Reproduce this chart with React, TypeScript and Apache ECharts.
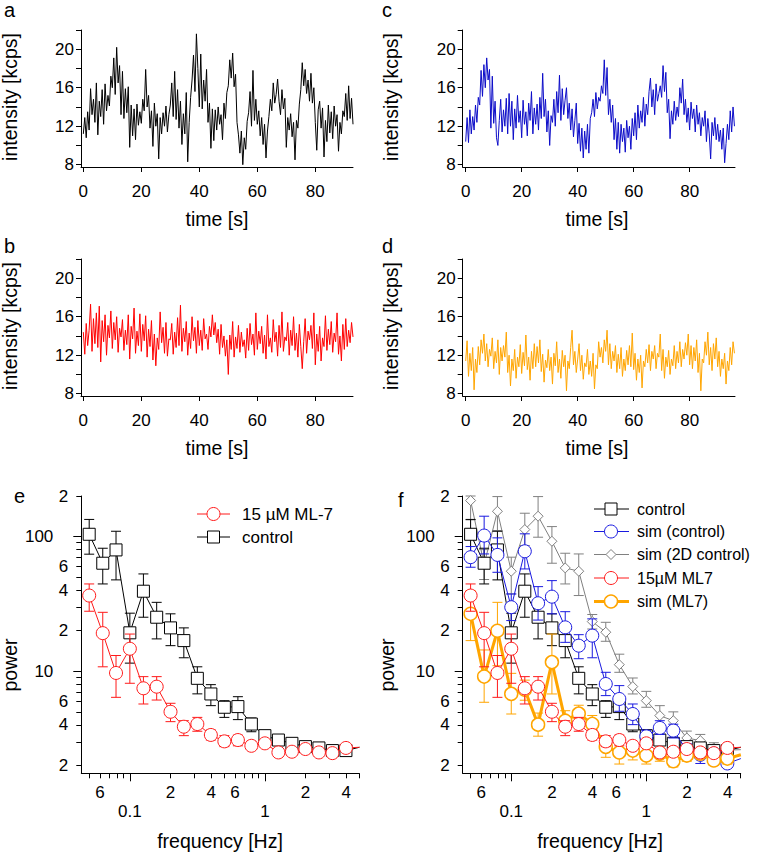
import { useEffect, useRef } from 'react';
import * as echarts from 'echarts';

const FONT = "'Liberation Sans', Arial, Helvetica, sans-serif";

// Intensity traces [kcps], sampled every 0.5 s
const DT = 0.5;
const traceA = [
  11.2, 12.9, 10.8, 13.5, 11.6, 15.9, 13.2, 14.8, 12.4, 16.5,
  11.1, 14.6, 13.0, 15.8, 12.2, 16.4, 13.6, 15.2, 14.1, 17.2,
  16.0, 19.1, 15.3, 20.2, 16.5, 18.3, 13.2, 17.7, 12.8, 15.9,
  13.4, 16.1, 9.8, 14.2, 11.0, 13.8, 10.6, 14.3, 12.1, 13.5,
  12.3, 14.8, 13.6, 17.9, 14.0, 15.2, 11.8, 13.6, 9.9, 14.4,
  12.0, 13.3, 8.6, 12.9, 11.2, 13.4, 12.0, 14.1, 11.4, 13.2,
  14.2, 16.5, 13.0, 17.7, 12.7, 15.8, 11.8, 14.6, 10.1, 13.3,
  11.2, 15.5, 8.3, 12.4, 15.0, 16.8, 19.4, 15.6, 21.6, 18.0,
  14.0, 19.5, 13.8, 16.8, 14.6, 17.9, 12.4, 14.4, 9.7, 13.8,
  10.5, 13.7, 11.6, 14.0, 12.2, 13.2, 10.6, 14.4, 12.8, 15.5,
  16.2, 18.9, 17.0, 19.6, 16.1, 17.4, 12.4, 11.1, 9.2, 11.5,
  8.0, 10.8, 9.6, 12.5, 13.4, 15.6, 12.0, 17.8, 12.6, 14.8,
  12.2, 13.6, 11.0, 12.9, 10.1, 12.2, 8.7, 11.5, 13.0, 14.8,
  13.6, 16.5, 14.4, 15.3, 16.9, 14.6, 13.2, 15.8, 13.8, 14.9,
  9.8, 12.9, 11.6, 13.3, 10.9, 12.4, 8.5, 12.6, 11.8, 14.3,
  15.8, 18.6, 16.2, 17.9, 15.4, 16.8, 14.6, 17.5, 14.4, 16.0,
  12.4, 9.5, 13.7, 14.6, 11.8, 13.9, 8.8, 12.6, 10.4, 14.2,
  11.3, 13.5, 10.7, 14.1, 12.0, 13.2, 9.4, 12.4, 11.2, 13.6,
  13.0, 15.4, 12.6, 16.2, 12.8, 14.9, 12.2,
];
const traceB = [
  14.4, 12.1, 15.3, 13.0, 14.6, 17.3, 12.4, 15.8, 13.2, 16.4,
  12.8, 17.1, 11.3, 15.6, 13.4, 16.2, 12.0, 15.1, 13.8, 16.6,
  12.7, 15.4, 13.6, 16.0, 12.3, 14.8, 13.9, 15.7, 12.5, 14.6,
  13.1, 16.2, 11.6, 15.0, 13.7, 16.9, 12.2, 14.5, 13.0, 16.3,
  12.4, 15.2, 13.5, 16.1, 11.8, 14.7, 12.9, 15.6, 11.5, 14.2,
  10.9, 13.8, 12.6, 16.5, 13.3, 14.9, 12.2, 15.4, 11.9, 13.7,
  13.6, 15.3, 12.1, 14.4, 12.8, 15.9, 13.0, 17.2, 12.4, 14.8,
  13.4, 15.5, 12.0, 14.3, 12.7, 16.0, 13.5, 14.9, 12.2, 15.6,
  13.0, 14.6, 12.5, 15.8, 13.7, 14.2, 12.6, 15.0, 13.9, 16.2,
  14.1, 15.4, 13.3, 14.7, 12.1, 15.2, 12.8, 14.0, 11.9, 13.6,
  10.0, 14.1, 12.6, 15.5, 11.8, 13.9, 12.7, 15.1, 12.3, 14.4,
  12.9, 13.6, 11.7, 14.8, 12.5, 15.3, 13.1, 14.2, 12.0, 16.4,
  12.6, 14.5, 13.2, 15.0, 12.2, 14.1, 11.6, 16.2, 12.9, 13.8,
  12.3, 15.7, 13.4, 14.4, 11.9, 15.1, 12.8, 16.5, 12.4, 13.9,
  13.5, 15.4, 12.0, 14.6, 13.0, 16.0, 12.5, 14.3, 11.8, 15.2,
  12.9, 10.6, 13.4, 15.8, 12.2, 14.5, 13.6, 15.1, 12.7, 16.4,
  11.0, 14.2, 12.4, 15.0, 11.4, 13.8, 12.9, 16.1, 12.5, 14.7,
  13.1, 15.5, 12.3, 14.3, 13.4, 16.4, 12.1, 14.0, 11.4, 15.2,
  12.6, 15.8, 12.9, 14.6, 13.3, 15.4, 13.9,
];
const traceC = [
  10.4, 12.9, 10.3, 13.7, 11.2, 13.0, 11.6, 14.2, 12.4, 15.0,
  14.2, 17.8, 15.1, 18.4, 16.0, 19.1, 16.8, 17.9, 11.8, 17.2,
  12.3, 14.6, 10.8, 10.0, 12.6, 14.8, 11.4, 13.7, 12.0, 14.9,
  11.2, 15.4, 12.0, 14.6, 10.6, 13.8, 11.8, 15.2, 12.4, 13.6,
  10.8, 14.7, 12.2, 13.5, 11.0, 14.4, 12.6, 15.6, 11.2, 13.9,
  12.2, 14.3, 11.6, 15.0, 12.8, 17.5, 13.0, 14.8, 11.4, 13.6,
  10.0, 13.1, 12.4, 14.8, 12.0, 15.6, 13.4, 17.3, 12.6, 15.9,
  13.2, 14.7, 16.0, 12.8, 14.4, 11.6, 13.8, 10.9, 12.6, 14.4,
  10.2, 12.3, 9.4, 11.8, 8.7, 11.5, 9.6, 12.2, 9.2, 12.8,
  13.4, 14.8, 13.0, 15.5, 13.8, 15.0, 14.6, 16.2, 15.4, 18.9,
  15.2, 18.1, 13.2, 14.8, 12.4, 14.2, 10.6, 12.8, 9.6, 12.4,
  9.2, 12.2, 10.4, 11.8, 9.3, 12.6, 10.8, 12.0, 9.6, 12.8,
  11.0, 13.4, 10.6, 14.2, 11.8, 13.6, 12.4, 15.0, 12.0, 14.3,
  13.2, 15.6, 17.0, 14.0, 15.8, 13.2, 16.4, 14.6, 15.4, 16.2,
  15.0, 18.3, 15.6, 17.6, 13.4, 14.8, 10.7, 13.6, 12.2, 14.6,
  12.6, 14.0, 13.0, 16.0, 14.4, 16.9, 13.2, 14.8, 12.4, 13.9,
  11.6, 14.5, 12.8, 13.8, 11.4, 14.2, 12.2, 13.4, 11.0, 12.9,
  12.0, 13.6, 10.4, 12.8, 11.2, 8.6, 12.4, 11.0, 12.9, 10.6,
  12.2, 10.4, 11.6, 9.6, 11.8, 8.2, 10.2, 12.2, 10.6, 13.6,
  11.4, 14.0, 12.0,
];
const traceD = [
  11.4, 13.5, 9.8, 12.2, 10.4, 12.8, 8.4, 11.6, 10.2, 12.9,
  11.0, 13.6, 12.2, 14.2, 11.4, 13.2, 10.8, 12.6, 11.9, 13.8,
  10.6, 12.4, 11.2, 13.6, 10.0, 12.8, 11.4, 13.0, 11.8, 14.4,
  10.2, 12.0, 8.8, 11.6, 10.4, 12.6, 9.6, 11.8, 10.8, 13.1,
  10.1, 12.3, 10.9, 14.1, 10.5, 11.8, 9.4, 12.4, 10.6, 13.2,
  10.8, 12.9, 11.2, 13.6, 10.3, 12.1, 9.2, 11.5, 10.7, 12.6,
  10.4, 11.8, 9.0, 12.2, 10.9, 13.4, 10.2, 11.6, 9.6, 12.5,
  10.8, 12.0, 8.3, 11.4, 10.6, 12.8, 14.6, 11.0, 12.4, 10.2,
  11.6, 13.2, 10.4, 12.0, 9.5, 11.2, 10.8, 12.6, 10.0, 11.4,
  9.8, 12.2, 8.5, 11.0, 10.6, 13.4, 11.8, 12.8, 11.2, 13.6,
  12.4, 14.6, 11.0, 13.2, 10.6, 12.4, 11.4, 13.0, 10.2, 12.1,
  10.6, 12.8, 9.8, 11.6, 10.4, 12.5, 11.0, 13.0, 10.8, 14.3,
  10.5, 12.2, 9.4, 11.6, 10.2, 12.0, 8.6, 11.4, 10.8, 12.6,
  11.2, 13.1, 10.4, 12.4, 11.6, 13.0, 10.6, 12.2, 11.8, 14.2,
  10.4, 12.6, 9.6, 11.8, 10.8, 12.5, 10.0, 11.6, 10.9, 13.0,
  10.6, 12.4, 11.2, 13.4, 10.8, 12.6, 11.6, 13.3, 12.0, 14.2,
  11.0, 13.0, 10.6, 12.8, 11.4, 13.6, 10.2, 12.2, 8.3, 11.6,
  11.2, 13.4, 12.0, 14.4, 11.0, 12.8, 10.4, 13.2, 11.6, 13.8,
  10.8, 12.4, 9.8, 11.6, 10.6, 12.2, 9.0, 11.4, 10.4, 12.8,
  11.0, 13.4, 12.2,
];

// Power spectra
const freq = [0.05, 0.063, 0.079, 0.1, 0.126, 0.158, 0.2, 0.251, 0.316, 0.398, 0.501, 0.631, 0.794, 1.0, 1.259, 1.585, 1.995, 2.512, 3.162, 3.981, 5.012];

const ctrlVal = [104, 63.4, 79.6, 19.3, 39.3, 25.2, 21.0, 16.9, 8.87, 6.79, 5.41, 5.47, 4.06, 3.33, 3.09, 2.92, 2.76, 2.70, 2.58, 2.58, 2.73];
const ctrlHi = [134, 81.9, 109.5, 27, 52.8, 32.5, 26.7, 21, 10.8, 7.96, 6.05, 6.48, 4.5, 3.53, 3.33, 3.1, 2.9, 2.82, 2.7, 2.7];
const ctrlLo = [74, 44.5, 47.7, 11.5, 25.2, 17.4, 15.5, 12.6, 6.8, 5.56, 4.55, 4.38, 3.56, 3.09, 2.85, 2.75, 2.62, 2.58, 2.46, 2.46];

const ml7Val = [36.5, 19.2, 9.72, 14.7, 7.48, 7.69, 5.01, 3.88, 4.06, 3.37, 3.02, 3.09, 2.8, 2.92, 2.5, 2.53, 2.65, 2.5, 2.47, 2.7, 2.73];
const ml7Hi = [44.5, 27.4, 13.1, 18.9, 9.13, 9.13, 5.79, 4.3, 4.55, 3.67, 3.33, 3.36, 3.02, 3.1, 2.65, 2.65, 2.8, 2.62, 2.6, 2.8];
const ml7Lo = [27.9, 10.8, 6.41, 8.15, 5.72, 6.12, 4.23, 3.33, 3.59, 3.09, 2.76, 2.8, 2.65, 2.75, 2.38, 2.4, 2.5, 2.38, 2.35, 2.6];

const simCtrlVal = [70.3, 101.7, 73.1, 29.9, 77.8, 32.0, 35.8, 21.2, 15.5, 18.4, 8.05, 6.23, 4.82, 3.29, 3.8, 3.63, 2.6, 2.4, 2.45, 2.07, 2.25];
const simCtrlHi = [84.3, 141.6, 97.8, 37.5, 104.8, 42.5, 47.1, 27.7, 18.7, 24.5, 9.83, 7.83, 5.72, 3.65, 4.3, 4.05, 2.9, 2.62, 2.6, 2.2];
const simCtrlLo = [59.2, 74.3, 54.3, 23.8, 57.5, 24.0, 26.7, 16.4, 12.4, 12.6, 6.6, 5.05, 4.02, 2.95, 3.4, 3.2, 2.25, 2.07, 2.3, 1.95];

const sim2dVal = [185, 62, 154, 55.3, 112.7, 141.6, 92.3, 58.5, 55.3, 23.4, 19.5, 11.2, 7.7, 6.06, 4.69, 4.3, 3.2, 3.06, 2.7, 2.6, 2.62];
const sim2dHi = [200, 80, 198, 70.3, 149, 198, 118.6, 75.2, 74.3, 26.4, 23.1, 13.4, 8.92, 7.1, 5.56, 5.0, 3.6, 3.4, 2.95, 2.75];
const sim2dLo = [133, 48, 110.8, 37.5, 85.8, 98.9, 63.4, 44.5, 36.5, 20.6, 16.7, 9.83, 6.79, 5.41, 4.0, 3.7, 2.85, 2.75, 2.5, 2.45];

const simMl7Val = [26.7, 9.14, 20.0, 6.8, 7.3, 4.02, 11.7, 4.3, 4.85, 4.07, 2.75, 2.5, 2.58, 2.37, 2.45, 2.15, 2.37, 2.45, 2.18, 2.25, 2.4];
const simMl7Hi = [39.7, 14.4, 32.5, 9.66, 8.6, 4.9, 18.9, 5.1, 5.6, 4.7, 3.2, 3.0, 2.9, 2.75, 2.7, 2.45, 2.6, 2.65, 2.4, 2.45];
const simMl7Lo = [16.9, 5.89, 11.0, 4.82, 6.1, 3.3, 6.79, 3.6, 4.2, 3.4, 2.3, 2.05, 2.2, 2.05, 2.15, 1.95, 2.15, 2.25, 2.0, 2.05];

// Axis ticks / labels
const timeTicks = [0, 20, 40, 60, 80];
const intensityTicks = [8, 10, 12, 14, 16, 18, 20, 22];
const intensityLabels = [8, 12, 16, 20];
const logXMajor = [0.1, 1];
const logXMinor = [0.05, 0.06, 0.07, 0.08, 0.09, 0.2, 0.3, 0.4, 0.5, 0.6, 0.7, 0.8, 0.9, 2, 3, 4, 5];
const logXMinorLabels = [0.06, 0.2, 0.4, 0.6, 2, 4];
const logYMajor = [10, 100];
const logYMinor = [2, 3, 4, 5, 6, 7, 8, 9, 20, 30, 40, 50, 60, 70, 80, 90, 200];
const logYMinorLabels = [2, 4, 6, 20, 40, 60, 200];

const COL = {
  black: '#000000',
  red: '#ff1a1a',
  blue: '#1a1ae0',
  gray: '#808080',
  orange: '#ffa500',
  traceBlue: '#0c0cc8',
  traceRed: '#ff0000',
  traceOrange: '#ffa500',
};

const lineSt = { color: '#000', width: 1 };
const labelBase = { fontSize: 17, fontFamily: FONT, color: '#000' };

function timeX(gridIndex: number, min: number, max: number) {
  return {
    type: 'value', gridIndex, min, max, position: 'bottom',
    axisLine: { show: true, onZero: false, lineStyle: lineSt },
    axisTick: { show: true, length: 5, customValues: timeTicks, lineStyle: lineSt },
    axisLabel: { ...labelBase, show: true, customValues: timeTicks, margin: 16 },
    splitLine: { show: false },
  };
}
function timeY(gridIndex: number) {
  return {
    type: 'value', gridIndex, min: 7.76, max: 22, position: 'left',
    axisLine: { show: true, onZero: false, lineStyle: lineSt },
    axisTick: { show: true, length: 5, customValues: intensityTicks, lineStyle: lineSt },
    axisLabel: { ...labelBase, show: true, customValues: intensityLabels, margin: 7 },
    splitLine: { show: false },
  };
}
const fmtMajor = (v: number) => String(Number(v.toPrecision(3)));
const fmtMinor = (v: number) => {
  const m = Number(v.toPrecision(3));
  const e = Math.floor(Math.log10(m) + 1e-9);
  return String(Math.round(m / Math.pow(10, e)));
};
function logX(gridIndex: number, major: boolean) {
  return {
    type: 'log', logBase: 10, gridIndex, min: 0.0437, max: 5, position: 'bottom',
    axisLine: { show: major, onZero: false, lineStyle: lineSt },
    axisTick: { show: true, length: major ? 8 : 5, customValues: major ? logXMajor : logXMinor, lineStyle: lineSt },
    axisLabel: { ...labelBase, show: true, customValues: major ? logXMajor : logXMinorLabels, margin: major ? 30 : 10.5, formatter: major ? fmtMajor : fmtMinor },
    splitLine: { show: false }, minorTick: { show: false },
  };
}
function logY(gridIndex: number, major: boolean) {
  return {
    type: 'log', logBase: 10, gridIndex, min: 1.75, max: 200, position: 'left',
    axisLine: { show: major, onZero: false, lineStyle: lineSt },
    axisTick: { show: true, length: major ? 8 : 5, customValues: major ? logYMajor : logYMinor, lineStyle: lineSt },
    axisLabel: { ...labelBase, show: true, customValues: major ? logYMajor : logYMinorLabels, margin: major ? 28 : 13, formatter: major ? fmtMajor : fmtMinor },
    splitLine: { show: false }, minorTick: { show: false },
  };
}

function traceSeries(vals: number[], idx: number, color: string) {
  return {
    type: 'line', xAxisIndex: idx, yAxisIndex: idx,
    data: vals.map((v, i) => [i * DT, v]),
    showSymbol: false, symbol: 'none',
    lineStyle: { color, width: 1 },
    silent: true, emphasis: { disabled: true }, z: 2,
  };
}

function errSeries(xi: number, yi: number, color: string, lo: number[], hi: number[], z: number) {
  return {
    type: 'custom', xAxisIndex: xi, yAxisIndex: yi, z, silent: true, clip: false,
    data: lo.map((l, i) => [freq[i], l, hi[i]]),
    encode: { x: 0, y: [1, 2] },
    renderItem: (_p: any, api: any) => {
      const x = api.value(0);
      const pt = api.coord([x, api.value(2)]);
      const pb = api.coord([x, api.value(1)]);
      const w = 5;
      const style = { stroke: color, lineWidth: 1, fill: 'none' };
      return {
        type: 'group',
        children: [
          { type: 'line', shape: { x1: pt[0], y1: pt[1], x2: pb[0], y2: pb[1] }, style },
          { type: 'line', shape: { x1: pt[0] - w, y1: pt[1], x2: pt[0] + w, y2: pt[1] }, style },
          { type: 'line', shape: { x1: pb[0] - w, y1: pb[1], x2: pb[0] + w, y2: pb[1] }, style },
        ],
      };
    },
  };
}

function specSeries(name: string, xi: number, yi: number, vals: number[], color: string, symbol: string, size: number, width: number, bw: number, z: number) {
  return {
    type: 'line', name, xAxisIndex: xi, yAxisIndex: yi, z,
    data: vals.map((v, i) => [freq[i], v]),
    symbol, symbolSize: size, showSymbol: true, showAllSymbol: true,
    itemStyle: { color: '#ffffff', borderColor: color, borderWidth: bw },
    lineStyle: { color, width },
    silent: true, emphasis: { disabled: true },
  };
}

function txt(text: string, x: number, y: number, size: number, align = 'center', rot = 0, vAlign = 'middle') {
  return {
    type: 'text', x, y, rotation: rot, silent: true,
    style: {
      text, fill: '#000', fontSize: size, fontFamily: FONT,
      align, textAlign: align, verticalAlign: vAlign, textVerticalAlign: vAlign,
    },
  };
}

function legendItem(y: number, x1: number, x2: number, mx: number, tx: number, label: string, color: string, kind: string, lw: number, bw: number, fs: number) {
  const els: any[] = [
    { type: 'line', silent: true, shape: { x1, y1: y, x2, y2: y }, style: { stroke: color, lineWidth: lw } },
  ];
  const ms = { fill: '#fff', stroke: color, lineWidth: bw };
  if (kind === 'circle') els.push({ type: 'circle', silent: true, shape: { cx: mx, cy: y, r: 6.5 }, style: ms });
  if (kind === 'rect') els.push({ type: 'rect', silent: true, shape: { x: mx - 6, y: y - 6, width: 12, height: 12 }, style: ms });
  if (kind === 'diamond') els.push({ type: 'polygon', silent: true, shape: { points: [[mx, y - 5], [mx + 5, y], [mx, y + 5], [mx - 5, y]] }, style: ms });
  els.push(txt(label, tx, y, fs, 'left'));
  return els;
}

export default function App() {
  const ref = useRef<HTMLDivElement>(null);
  useEffect(() => {
    document.body.style.margin = '0';
    if (!ref.current) return;
    const chart = echarts.init(ref.current, undefined, { renderer: 'svg' });
    const grids = [
      { left: 81, top: 30, width: 272, height: 137 },
      { left: 81, top: 259, width: 272, height: 137 },
      { left: 462.7, top: 30, width: 272.3, height: 137 },
      { left: 462.7, top: 259, width: 272.3, height: 137 },
      { left: 81.3, top: 496, width: 278, height: 277.3 },
      { left: 462.7, top: 496, width: 278, height: 277.3 },
    ];
    const xAxis = [
      timeX(0, -0.8, 93), timeX(1, -0.8, 93), timeX(2, -1.07, 96.2), timeX(3, -1.07, 96.2),
      logX(4, true), logX(4, false), logX(5, true), logX(5, false),
    ];
    const yAxis = [
      timeY(0), timeY(1), timeY(2), timeY(3),
      logY(4, true), logY(4, false), logY(5, true), logY(5, false),
    ];
    const series: any[] = [
      traceSeries(traceA, 0, COL.black),
      traceSeries(traceB, 1, COL.traceRed),
      traceSeries(traceC, 2, COL.traceBlue),
      traceSeries(traceD, 3, COL.traceOrange),
      // panel e
      errSeries(4, 4, COL.black, ctrlLo, ctrlHi, 3),
      specSeries('control', 4, 4, ctrlVal, COL.black, 'rect', 12, 1, 1, 4),
      errSeries(4, 4, COL.red, ml7Lo, ml7Hi, 5),
      specSeries('15 µM ML-7', 4, 4, ml7Val, COL.red, 'circle', 13, 1, 1, 6),
      // panel f
      errSeries(6, 6, COL.gray, sim2dLo, sim2dHi, 1),
      specSeries('sim (2D control)', 6, 6, sim2dVal, COL.gray, 'diamond', 10, 1, 1, 2),
      errSeries(6, 6, COL.black, ctrlLo, ctrlHi, 3),
      specSeries('control', 6, 6, ctrlVal, COL.black, 'rect', 12, 1, 1, 4),
      errSeries(6, 6, COL.blue, simCtrlLo, simCtrlHi, 5),
      specSeries('sim (control)', 6, 6, simCtrlVal, COL.blue, 'circle', 13, 1, 1, 6),
      errSeries(6, 6, COL.orange, simMl7Lo, simMl7Hi, 7),
      specSeries('sim (ML7)', 6, 6, simMl7Val, COL.orange, 'circle', 13, 3, 1.5, 8),
      errSeries(6, 6, COL.red, ml7Lo, ml7Hi, 9),
      specSeries('15µM ML7', 6, 6, ml7Val, COL.red, 'circle', 13, 1, 1, 10),
    ];
    const graphic: any[] = [
      txt('a', 4, 0, 20, 'left', 0, 'top'),
      txt('b', 4, 246.1, 20, 'left'),
      txt('c', 382, 0, 20, 'left', 0, 'top'),
      txt('d', 382, 246.1, 20, 'left'),
      txt('e', 14, 496.1, 20, 'left'),
      txt('f', 398, 500.1, 20, 'left'),
      txt('intensity [kcps]', 10, 97, 19.5, 'center', Math.PI / 2),
      txt('intensity [kcps]', 10, 326, 19.5, 'center', Math.PI / 2),
      txt('intensity [kcps]', 391, 97, 19.5, 'center', Math.PI / 2),
      txt('intensity [kcps]', 391, 326, 19.5, 'center', Math.PI / 2),
      txt('time [s]', 217, 219, 19.5),
      txt('time [s]', 597, 219, 19.5),
      txt('time [s]', 217, 448, 19.5),
      txt('time [s]', 597, 448, 19.5),
      txt('power', 10, 665, 19.5, 'center', Math.PI / 2),
      txt('power', 387, 665, 19.5, 'center', Math.PI / 2),
      txt('frequency [Hz]', 220, 841, 19.5),
      txt('frequency [Hz]', 600, 841, 19.5),
      ...legendItem(514, 197, 230, 213.5, 242, '15 µM ML-7', COL.red, 'circle', 1, 1, 17),
      ...legendItem(537, 197, 230, 213.5, 242, 'control', COL.black, 'rect', 1, 1, 17),
      ...legendItem(509, 594, 629, 611, 637, 'control', COL.black, 'rect', 1, 1, 16),
      ...legendItem(531.5, 594, 629, 611, 637, 'sim (control)', COL.blue, 'circle', 1, 1, 16),
      ...legendItem(554.5, 594, 629, 611, 637, 'sim (2D control)', COL.gray, 'diamond', 1, 1, 16),
      ...legendItem(578, 594, 629, 611, 637, '15µM ML7', COL.red, 'circle', 1, 1, 16),
      ...legendItem(601.5, 594, 629, 611, 637, 'sim (ML7)', COL.orange, 'circle', 3, 1.5, 16),
    ];
    chart.setOption({
      animation: false,
      backgroundColor: '#ffffff',
      textStyle: { fontFamily: FONT },
      grid: grids,
      xAxis,
      yAxis,
      series,
      graphic,
    });
    return () => chart.dispose();
  }, []);
  return <div ref={ref} style={{ position: 'absolute', left: 0, top: 0, width: 760, height: 853 }} />;
}
